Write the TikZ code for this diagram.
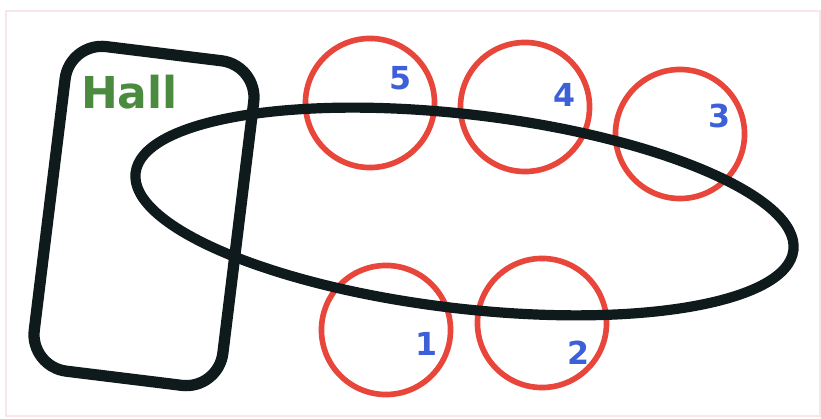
\documentclass[tikz,border=0pt]{standalone}
\usepackage{fontspec}
\usepackage{tikz}
\usetikzlibrary{math}
\usetikzlibrary{calc}
\newfontfamily\labelfont{DejaVu Sans}
\definecolor{seatred}{HTML}{E8453B}
\definecolor{numblue}{HTML}{3D5FD8}
\definecolor{hallgreen}{HTML}{4B8B3F}
\definecolor{outline}{HTML}{0E1A1C}
\definecolor{framepink}{HTML}{FAE6E8}
\tikzset{
seat/.style={draw=seatred, line width=1.6pt},
numlabel/.style={text=numblue, inner sep=0pt, font=\labelfont\bfseries\fontsize{9pt}{9pt}\selectfont},
}

\begin{document}
\begin{tikzpicture}[x=0.01cm, y=-0.01cm]
\tikzmath{
\R=0.645;
}
\useasboundingbox (0,0) rectangle (821,419);
\draw[color=framepink, line width=0.4pt] (6,11) rectangle (820,416);

% seats round the table
\foreach \n/\x/\y/\lx/\ly in {5/370/103/401/78.5, 4/525/107/565/95, 3/680/134/720/116, 1/386/330/427/344, 2/542/323/579/353}{
\draw[seat] (\x,\y) circle (\R cm);
\node[numlabel] (n\n) at (\lx,\ly) {\n};
}

\draw[outline, line width=3.2pt, rounded corners=10.5pt, rotate around={-7:(144,216)}] (49,52.5) rectangle (239,379.5);
\draw[outline, line width=2.9pt, rotate around={-6.7:(464.5,211.5)}] (464.5,211.5) ellipse [x radius=3.31cm, y radius=0.97cm];

\node[text=hallgreen, inner sep=0pt, font=\labelfont\bfseries\fontsize{12.5pt}{12.5pt}\selectfont] (hall) at (129.5,92.5) {Hall};
\end{tikzpicture}
\end{document}
